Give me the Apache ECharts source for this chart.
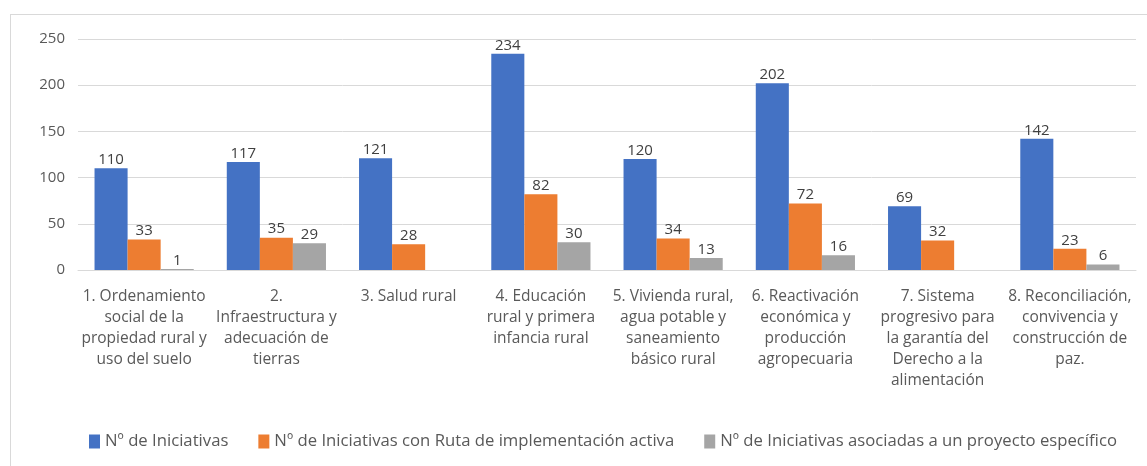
<!DOCTYPE html>
<html>
<head>
<meta charset="utf-8">
<script src="https://cdn.jsdelivr.net/npm/echarts@6/dist/echarts.min.js"></script>
<style>
	html, body { margin: 0; padding: 0; background: #fff; }
	#frame { position: absolute; left: 10px; top: 14px; width: 1200px; height: 500px; border-left: 1px solid #d9d9d9; border-top: 1px solid #d9d9d9; }
	#chart { position: absolute; left: 0; top: 0; width: 1147px; height: 466px; }
</style>
</head>
<body>
<div id="frame"></div>
<div id="chart"></div>
<script>
	// categorias (saltos de linea como en el original)
	var categories = [
		'1. Ordenamiento\nsocial de la\npropiedad rural y\nuso del suelo',
		'2.\nInfraestructura y\nadecuación de\ntierras',
		'3. Salud rural',
		'4. Educación\nrural y primera\ninfancia rural',
		'5. Vivienda rural,\nagua potable y\nsaneamiento\nbásico rural',
		'6. Reactivación\neconómica y\nproducción\nagropecuaria',
		'7. Sistema\nprogresivo para\nla garantía del\nDerecho a la\nalimentación',
		'8. Reconciliación,\nconvivencia y\nconstrucción de\npaz.'
	]
	var seriesNames = [
		'Nº de Iniciativas',
		'Nº de Iniciativas con Ruta de implementación activa',
		'Nº de Iniciativas asociadas a un proyecto específico'
	]
	var iniciativas = [110, 117, 121, 234, 120, 202, 69, 142]
	var conRuta = [33, 35, 28, 82, 34, 72, 32, 23]
	var conProyecto = [1, 29, null, 30, 13, 16, null, 6]
	var yTicks = [0, 50, 100, 150, 200, 250]

	var colors = ['#4472C4', '#ED7D31', '#A5A5A5']
	var font = 'Open Sans'

	var labelOption = {
		show: true,
		position: 'top',
		distance: 1,
		color: '#404040',
		fontSize: 15,
		fontFamily: font
	}

	var chart = echarts.init(document.getElementById('chart'))
	var option = {
		animation: false,
		color: colors,
		grid: {
			left: 78,
			right: 11,
			top: 39,
			bottom: 196
		},
		legend: {
			data: seriesNames,
			left: 84,
			top: 428,
			itemWidth: 11,
			itemHeight: 14,
			itemGap: 30,
			icon: 'rect',
			textStyle: {
				color: '#595959',
				fontSize: 16.7,
				fontFamily: font
			}
		},
		xAxis: {
			type: 'category',
			data: categories,
			axisLine: { lineStyle: { color: '#d9d9d9' } },
			axisTick: { show: false },
			axisLabel: {
				interval: 0,
				margin: 16,
				color: '#595959',
				fontSize: 15.5,
				lineHeight: 21,
				fontFamily: font
			}
		},
		yAxis: {
			type: 'value',
			min: yTicks[0],
			max: yTicks[yTicks.length - 1],
			interval: yTicks[1] - yTicks[0],
			axisLine: { show: false },
			axisTick: { show: false },
			splitLine: { lineStyle: { color: '#d9d9d9' } },
			axisLabel: {
				margin: 13,
				color: '#595959',
				fontSize: 15,
				fontFamily: font
			}
		},
		series: [
			{ name: seriesNames[0], type: 'bar', data: iniciativas, barGap: 0, barCategoryGap: '25%', label: labelOption },
			{ name: seriesNames[1], type: 'bar', data: conRuta, barGap: 0, barCategoryGap: '25%', label: labelOption },
			{ name: seriesNames[2], type: 'bar', data: conProyecto, barGap: 0, barCategoryGap: '25%', label: labelOption }
		]
	}
	chart.setOption(option)
</script>
</body>
</html>
